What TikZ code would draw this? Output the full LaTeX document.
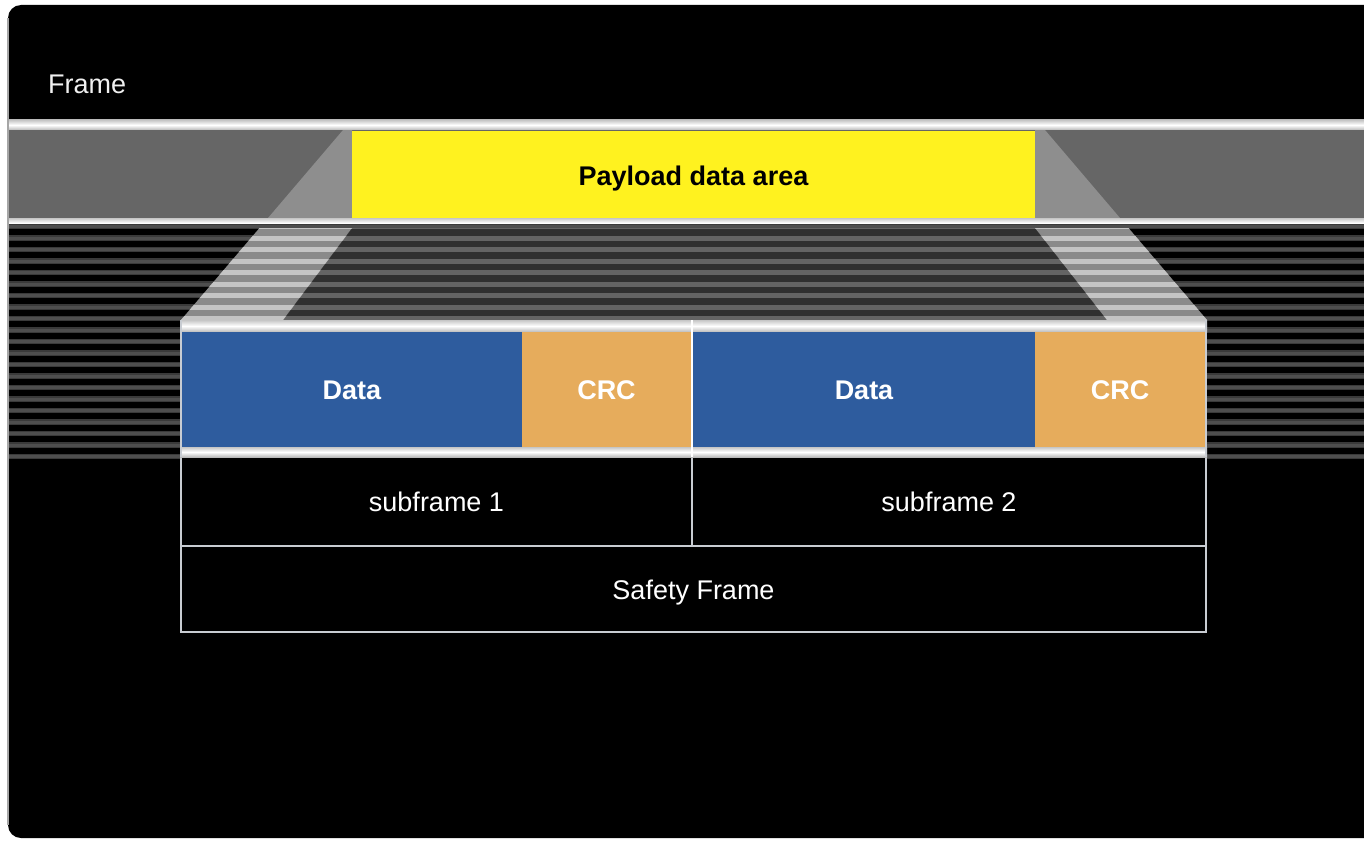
\documentclass[tikz,border=0pt]{standalone}
\usepackage{fontspec}
\setmainfont{Liberation Sans}
\definecolor{dblue}{HTML}{2E5C9E}
\definecolor{crcor}{HTML}{E6AC5C}
\definecolor{ylw}{HTML}{FFF21F}
\definecolor{bandgrey}{HTML}{666666}
\definecolor{lgrey}{HTML}{8E8E8E}
\definecolor{outl}{HTML}{C8CCD2}
\definecolor{stripedark}{HTML}{3A3A3A}
\definecolor{stripemid}{HTML}{4E4E4E}
\definecolor{midbase}{HTML}{303030}
\definecolor{midstripe}{HTML}{646464}
\definecolor{lightbase}{HTML}{8A8A8A}
\definecolor{lightstripe}{HTML}{C4C4C4}
\begin{document}
\begin{tikzpicture}[x=1pt,y=-1pt,
  txt/.style={font=\fontsize{27}{32}\selectfont, inner sep=0pt, text height=20pt, text depth=0pt},
  cell/.style={txt, draw=none, text=white, font=\fontsize{27}{32}\selectfont\bfseries},
  framebox/.style={txt, draw=outl, line width=2pt, text=white, fill=black},
  whiteband/.style={top color=gray!45, bottom color=gray!55, middle color=white}
]
\useasboundingbox (0,0) rectangle (1364,840);
\fill[white] (0,0) rectangle (1364,840);
\begin{scope}
\clip (0,0) rectangle (1364,840);
% outer black frame
\fill[black, rounded corners=13pt] (8,5) rectangle (1400,838);
% top band
\shade[whiteband] (8,120) rectangle (1400,130);
\fill[bandgrey] (8,130) rectangle (1400,218);
\fill[lgrey] (343,130) -- (352,130) -- (352,218) -- (268,218) -- cycle;
\fill[lgrey] (1035,130) -- (1045,130) -- (1120,218) -- (1035,218) -- cycle;
\node[txt, fill=ylw, minimum width=683pt, minimum height=88pt,
      font=\fontsize{27}{32}\selectfont\bfseries] (payload) at (693.5,175) {Payload data area};
\shade[whiteband] (8,218) rectangle (1400,228);
% side stripes
\fill[black] (8,228) rectangle (1400,455);
\foreach \k in {0,...,20} {
  \pgfmathsetmacro\yy{226.5+11.5*\k}
  \draw[stripedark, line width=5.5pt] (8,\yy) -- (1400,\yy);
  \draw[stripemid, line width=3pt] (8,\yy) -- (1400,\yy);
}
% central funnel
\begin{scope}
\clip (352,228) -- (1035,228) -- (1107,320) -- (283,320) -- cycle;
\fill[midbase] (250,228) rectangle (1150,320);
\foreach \k in {0,...,9} {
  \pgfmathsetmacro\yy{226.5+11.5*\k}
  \draw[midstripe, line width=5pt] (250,\yy) -- (1150,\yy);
}
\end{scope}
% light side parallelograms
\begin{scope}
\clip (259.5,228) -- (352,228) -- (283,320) -- (181,320) -- cycle;
\fill[lightbase] (170,228) rectangle (360,320);
\foreach \k in {0,...,9} {
  \pgfmathsetmacro\yy{226.5+11.5*\k}
  \draw[lightstripe, line width=5pt] (170,\yy) -- (360,\yy);
}
\end{scope}
\begin{scope}
\clip (1035,228) -- (1128.5,228) -- (1207,320) -- (1107,320) -- cycle;
\fill[lightbase] (1030,228) rectangle (1215,320);
\foreach \k in {0,...,9} {
  \pgfmathsetmacro\yy{226.5+11.5*\k}
  \draw[lightstripe, line width=5pt] (1030,\yy) -- (1215,\yy);
}
\end{scope}
% left edge line of the outer frame
\draw[gray!70, line width=1.2pt] (8,18) -- (8,825);
\end{scope}
% safety frame block
\node[framebox, minimum width=511pt, minimum height=89pt] (sf1) at (436.5,501.5) {subframe 1};
\node[framebox, minimum width=514pt, minimum height=89pt] (sf2) at (949,501.5) {subframe 2};
\node[framebox, minimum width=1025pt, minimum height=86pt] (safety) at (693.5,589) {Safety Frame};
\shade[whiteband] (180,320) rectangle (1207,332);
\shade[whiteband] (180,447) rectangle (1207,457);
\node[cell, fill=dblue, minimum width=340pt, minimum height=115pt] (d1) at (352,389.5) {Data};
\node[cell, fill=crcor, minimum width=169pt, minimum height=115pt] (c1) at (606.5,389.5) {CRC};
\node[cell, fill=dblue, minimum width=342pt, minimum height=115pt] (d2) at (864,389.5) {Data};
\node[cell, fill=crcor, minimum width=170pt, minimum height=115pt] (c2) at (1120,389.5) {CRC};
\draw[outl, line width=2pt] (181,320) -- (181,457);
\draw[outl, line width=2pt] (1206,320) -- (1206,457);
\draw[white, line width=2pt] (692,320) -- (692,457);
% title
\node[txt, anchor=west, text=gray!12] (frametitle) at (48,84) {Frame};
\end{tikzpicture}
\end{document}
